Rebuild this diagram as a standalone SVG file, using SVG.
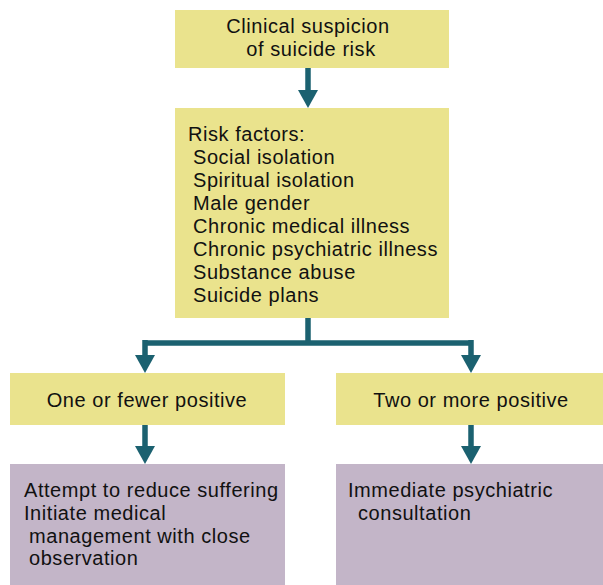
<svg xmlns="http://www.w3.org/2000/svg" width="603" height="585" viewBox="0 0 603 585">
<defs>
<style>
.y{fill:#EAE38D}
.p{fill:#C3B5C8}
.t{font-family:"Liberation Sans",Arial,sans-serif;font-size:20px;letter-spacing:0.55px;fill:#111}
.c{text-anchor:middle}
.ln{stroke:#1B6170;stroke-width:5.5;fill:none}
.ah{fill:#1B6170}
</style>
</defs>
<rect width="603" height="585" fill="#fff"/>
<g id="n-suspicion">
<rect class="y" x="175" y="10" width="274" height="58"/>
<text class="t c" x="308" y="33">Clinical suspicion</text>
<text class="t c" x="311" y="56">of suicide risk</text>
</g>
<g id="n-risk">
<rect class="y" x="175" y="108" width="274" height="210"/>
<text class="t" x="188" y="141">Risk factors:</text>
<text class="t" x="193" y="164">Social isolation</text>
<text class="t" x="193" y="187">Spiritual isolation</text>
<text class="t" x="193" y="210">Male gender</text>
<text class="t" x="193" y="233">Chronic medical illness</text>
<text class="t" x="193" y="256">Chronic psychiatric illness</text>
<text class="t" x="193" y="279">Substance abuse</text>
<text class="t" x="193" y="302">Suicide plans</text>
</g>
<g id="n-fewer">
<rect class="y" x="10" y="373" width="275" height="52"/>
<text class="t c" x="147" y="407">One or fewer positive</text>
</g>
<g id="n-more">
<rect class="y" x="336" y="373" width="267" height="52"/>
<text class="t c" x="471" y="407">Two or more positive</text>
</g>
<g id="n-reduce">
<rect class="p" x="10" y="464" width="275" height="121"/>
<text class="t" x="24" y="497">Attempt to reduce suffering</text>
<text class="t" x="24" y="520">Initiate medical</text>
<text class="t" x="29" y="543">management with close</text>
<text class="t" x="29" y="565">observation</text>
</g>
<g id="n-consult">
<rect class="p" x="336" y="464" width="267" height="121"/>
<text class="t" x="348" y="497">Immediate psychiatric</text>
<text class="t" x="358" y="520">consultation</text>
</g>
<g id="connectors">
<path class="ln" d="M308 68V92"/>
<polygon class="ah" points="298,90 318,90 308,108"/>
<path class="ln" d="M308 318V343M145 343H471M145 340V357M471 340V357"/>
<polygon class="ah" points="135,355 155,355 145,373"/>
<polygon class="ah" points="461,355 481,355 471,373"/>
<path class="ln" d="M145 425V448M471 425V448"/>
<polygon class="ah" points="135,446 155,446 145,464"/>
<polygon class="ah" points="461,446 481,446 471,464"/>
</g>
</svg>
